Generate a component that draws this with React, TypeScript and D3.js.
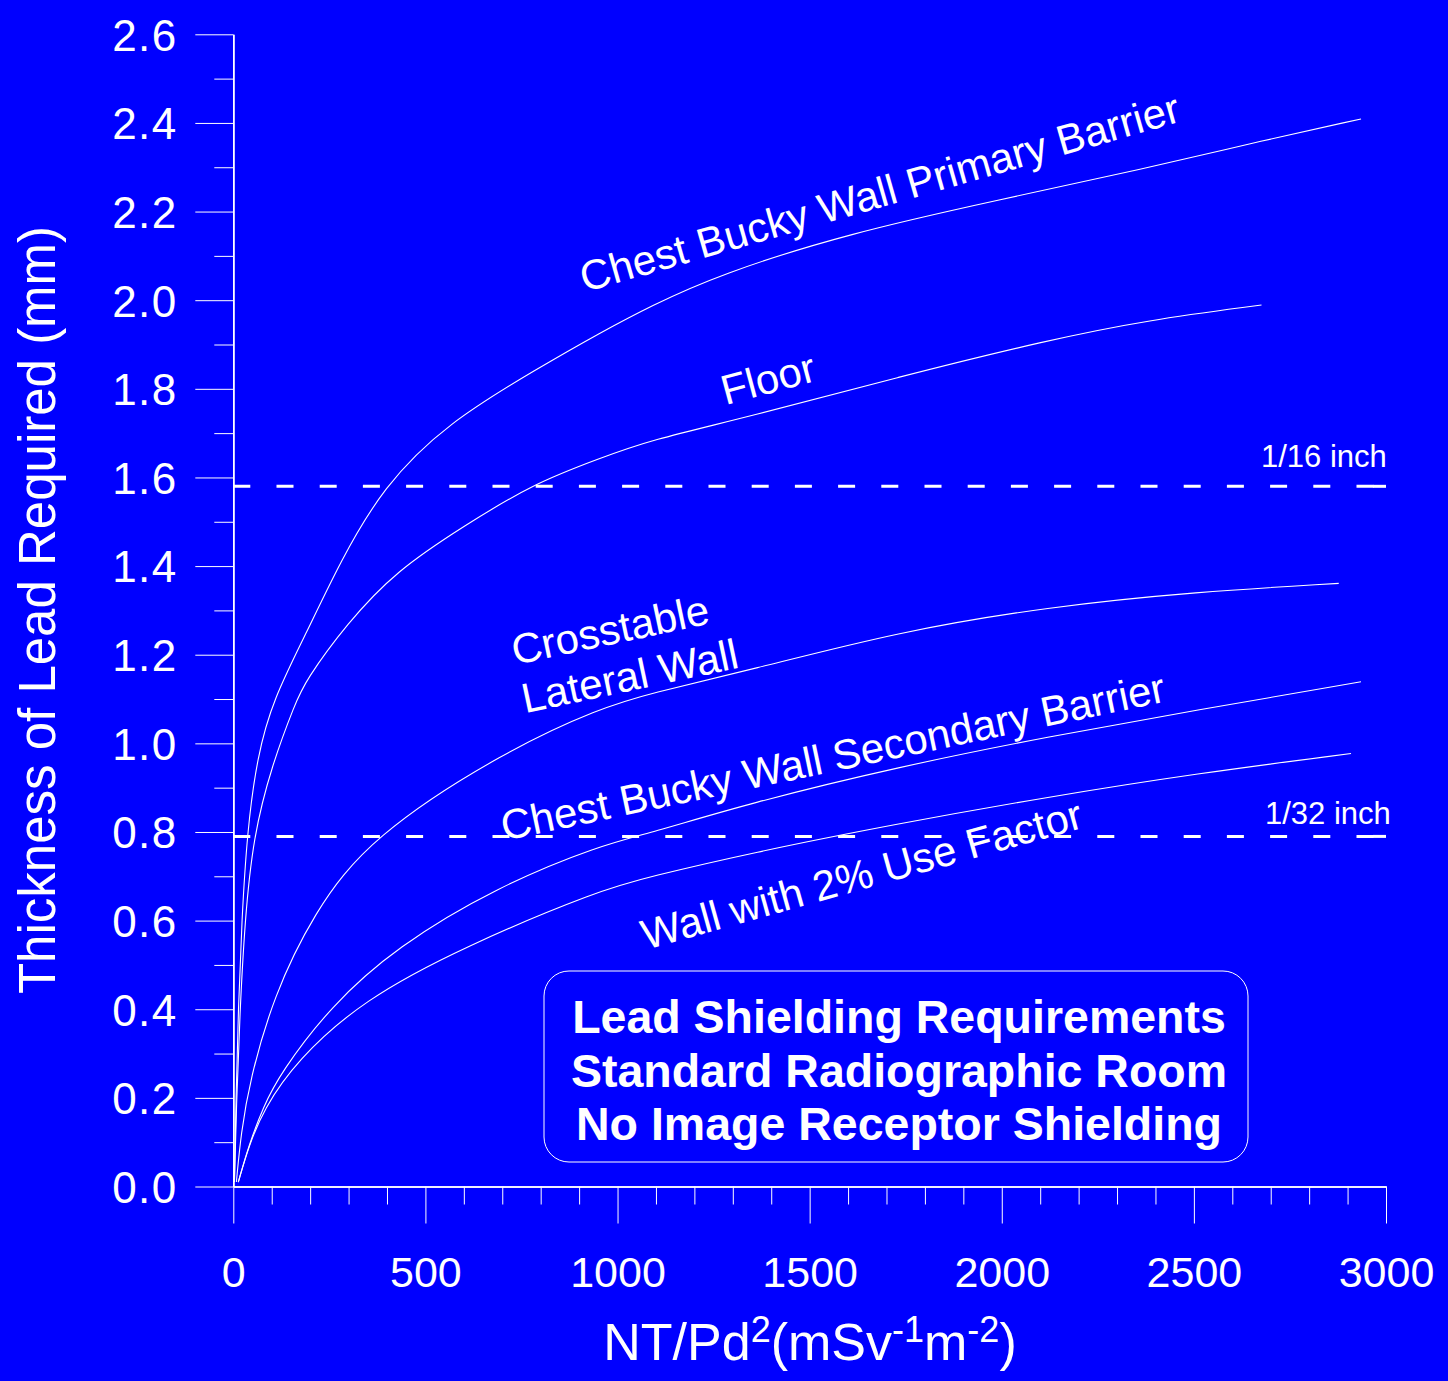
import * as d3 from "d3";
import { useEffect, useRef } from "react";

// tick values
const xTicks = [0, 500, 1000, 1500, 2000, 2500, 3000];
const yTicks = [0, 0.2, 0.4, 0.6, 0.8, 1.0, 1.2, 1.4, 1.6, 1.8, 2.0, 2.2, 2.4, 2.6];

// curves: NT/Pd^2 (x) and lead thickness in mm (y)
const primaryX = [3, 7, 13, 22, 36, 62, 104, 191, 278, 390, 555, 798, 954, 1084, 1264, 1602, 1990, 2378, 2638, 2935];
const primaryY = [0.01, 0.2, 0.4, 0.6, 0.8, 0.97, 1.1, 1.25, 1.41, 1.579, 1.722, 1.849, 1.926, 1.986, 2.058, 2.151, 2.226, 2.298, 2.352, 2.409];

const floorX = [3, 8, 17, 30, 52, 100, 161, 187, 295, 425, 599, 781, 954, 1084, 1343, 1731, 2120, 2379, 2676];
const floorY = [0.01, 0.18, 0.39, 0.6, 0.79, 0.95, 1.09, 1.14, 1.27, 1.39, 1.49, 1.586, 1.643, 1.684, 1.737, 1.827, 1.91, 1.955, 1.989];

const crossX = [8, 20, 43, 104, 208, 356, 712, 954, 1084, 1343, 1731, 2120, 2508, 2877];
const crossY = [0.01, 0.12, 0.24, 0.428, 0.616, 0.789, 0.985, 1.079, 1.113, 1.165, 1.252, 1.308, 1.342, 1.361];

const secondaryX = [13, 40, 78, 122, 252, 425, 686, 954, 1084, 1343, 1731, 2120, 2508, 2935];
const secondaryY = [0.01, 0.092, 0.18, 0.255, 0.406, 0.541, 0.676, 0.77, 0.797, 0.865, 0.947, 1.015, 1.075, 1.139];

const wallX = [13, 40, 78, 165, 338, 599, 954, 1084, 1343, 1731, 2120, 2508, 2909];
const wallY = [0.01, 0.09, 0.173, 0.285, 0.421, 0.541, 0.669, 0.699, 0.752, 0.819, 0.879, 0.932, 0.977];

const seriesX = [primaryX, floorX, crossX, secondaryX, wallX];
const seriesY = [primaryY, floorY, crossY, secondaryY, wallY];

// reference thicknesses (mm)
const refValues = [1.58, 0.79];
const refLabels = ["1/16 inch", "1/32 inch"];

// curve labels, anchored in data units
const labelText = ["Chest Bucky Wall Primary Barrier", "Floor", "Crosstable", "Lateral Wall", "Chest Bucky Wall Secondary Barrier", "Wall with 2% Use Factor"];
const labelX = [915, 1281, 733, 759, 705, 1074];
const labelY = [2.018, 1.763, 1.177, 1.068, 0.78, 0.534];
const labelAngle = [16, 15, 12, 12, 11.9, 15.6];

const boxLines = ["Lead Shielding Requirements", "Standard Radiographic Room", "No Image Receptor Shielding"];

const FONT = "'Liberation Sans', Arial, Helvetica, sans-serif";
const BG = "#0000ff";

export default function App() {
  const ref = useRef<SVGSVGElement | null>(null);

  useEffect(() => {
    document.body.style.margin = "0";
    document.body.style.background = BG;

    const width = 1448;
    const height = 1381;

    const svg = d3.select(ref.current);
    svg.selectAll("*").remove();

    svg.append("rect").attr("width", width).attr("height", height).attr("fill", BG);

    const x = d3.scaleLinear().domain([0, 3000]).range([233.3, 1386]);
    const y = d3.scaleLinear().domain([0, 2.6]).range([1186.5, 34.3]);

    // minor ticks
    const xMinor = d3.range(100, 3000, 100).filter(v => v % 500 !== 0);
    const yMinor = d3.range(1, 26, 2).map(v => v / 10);

    const styleAxis = (g) => {
      g.attr("font-family", FONT).attr("font-size", 43);
      g.selectAll("line").attr("stroke", "#fff").attr("stroke-width", 1);
      g.selectAll("text").attr("fill", "#fff");
      g.select(".domain").attr("stroke", "#fff").attr("stroke-width", 1.5);
    };

    // y axis
    svg.append("g")
      .attr("transform", `translate(${x(0)},0)`)
      .call(d3.axisLeft(y).tickValues(yMinor).tickSize(19).tickSizeOuter(0).tickFormat(() => ""))
      .call(styleAxis);

    const yAx = svg.append("g")
      .attr("transform", `translate(${x(0)},0)`)
      .call(d3.axisLeft(y).tickValues(yTicks).tickSize(38).tickSizeOuter(0).tickPadding(19).tickFormat(d3.format(".1f")))
      .call(styleAxis);
    yAx.selectAll("text")
      .attr("dy", "0.36em")
      .attr("font-size", 44)
      .attr("letter-spacing", 1.5)
      .attr("dx", 1.5);

    // x axis
    svg.append("g")
      .attr("transform", `translate(0,${y(0)})`)
      .call(d3.axisBottom(x).tickValues(xMinor).tickSize(18).tickSizeOuter(0).tickFormat(() => ""))
      .call(styleAxis);

    svg.append("g")
      .attr("transform", `translate(0,${y(0)})`)
      .call(d3.axisBottom(x).tickValues(xTicks).tickSize(37).tickSizeOuter(0).tickPadding(33).tickFormat(d3.format("d")))
      .call(styleAxis);

    // axis titles
    const xt = svg.append("text")
      .attr("x", 810)
      .attr("y", 1360)
      .attr("text-anchor", "middle")
      .attr("fill", "#fff")
      .attr("font-family", FONT)
      .attr("font-size", 52);
    xt.append("tspan").text("NT/Pd");
    xt.append("tspan").attr("font-size", 36).attr("dy", -18).text("2");
    xt.append("tspan").attr("dy", 18).text("(mSv");
    xt.append("tspan").attr("font-size", 36).attr("dy", -18).text("-1");
    xt.append("tspan").attr("dy", 18).text("m");
    xt.append("tspan").attr("font-size", 36).attr("dy", -18).text("-2");
    xt.append("tspan").attr("dy", 18).text(")");

    svg.append("text")
      .attr("transform", "translate(55,610) rotate(-90)")
      .attr("text-anchor", "middle")
      .attr("fill", "#fff")
      .attr("font-family", FONT)
      .attr("font-size", 51)
      .text("Thickness of Lead Required (mm)");

    // reference lines (dashed, with the closing piece at the right end)
    refValues.forEach(v => {
      svg.append("line")
        .attr("x1", x(0))
        .attr("x2", x(3000))
        .attr("y1", y(v))
        .attr("y2", y(v))
        .attr("stroke", "#fff")
        .attr("stroke-width", 3)
        .attr("stroke-dasharray", "17,26.2");
      svg.append("line")
        .attr("x1", x(2966))
        .attr("x2", x(3000))
        .attr("y1", y(v))
        .attr("y2", y(v))
        .attr("stroke", "#fff")
        .attr("stroke-width", 3);
    });
    svg.append("text")
      .attr("x", 1261).attr("y", 467)
      .attr("fill", "#fff").attr("font-family", FONT).attr("font-size", 31)
      .text(refLabels[0]);
    svg.append("text")
      .attr("x", 1265).attr("y", 824)
      .attr("fill", "#fff").attr("font-family", FONT).attr("font-size", 31)
      .text(refLabels[1]);

    // curves
    const line = d3.line<number[]>()
      .x(d => x(d[0]))
      .y(d => y(d[1]))
      .curve(d3.curveBasis);

    seriesX.forEach((xs, i) => {
      const pts = xs.map((v, j) => [v, seriesY[i][j]]);
      svg.append("path")
        .datum(pts)
        .attr("fill", "none")
        .attr("stroke", "#fff")
        .attr("stroke-width", 1.1)
        .attr("d", line);
    });

    // curve labels
    labelText.forEach((t, i) => {
      svg.append("text")
        .attr("transform", `translate(${x(labelX[i])},${y(labelY[i])}) rotate(${-labelAngle[i]})`)
        .attr("fill", "#fff")
        .attr("font-family", FONT)
        .attr("font-size", 42)
        .text(t);
    });

    // title box
    svg.append("rect")
      .attr("x", 544)
      .attr("y", 971)
      .attr("width", 704)
      .attr("height", 191)
      .attr("rx", 25)
      .attr("ry", 25)
      .attr("fill", "none")
      .attr("stroke", "#fff")
      .attr("stroke-width", 1);

    boxLines.forEach((t, i) => {
      svg.append("text")
        .attr("x", 899)
        .attr("y", 1033 + i * 53.6)
        .attr("text-anchor", "middle")
        .attr("fill", "#fff")
        .attr("font-family", FONT)
        .attr("font-weight", "bold")
        .attr("font-size", 46.5)
        .text(t);
    });
  }, []);

  return (
    <div style={{ position: "absolute", left: 0, top: 0, width: 1448, height: 1381, background: BG }}>
      <svg ref={ref} width={1448} height={1381} style={{ display: "block" }} />
    </div>
  );
}
